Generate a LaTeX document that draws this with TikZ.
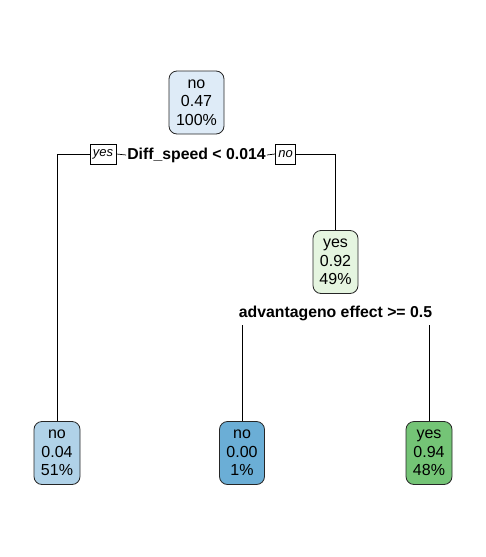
\documentclass[tikz,border=0pt]{standalone}
\usepackage{fontspec}
\setmainfont{Liberation Sans}
\definecolor{rootc}{HTML}{DEEBF7}
\definecolor{leafa}{HTML}{B0D2E8}
\definecolor{leafb}{HTML}{6BAED6}
\definecolor{yesc}{HTML}{E5F5E0}
\definecolor{leafc}{HTML}{74C476}
\begin{document}
\begin{tikzpicture}[x=1pt,y=-1pt,
  tnode/.style={draw=black!85, line width=0.8pt, rounded corners=8pt, align=center,
    inner sep=0pt, minimum height=63pt, font=\fontsize{16}{18.7}\selectfont},
  splitlab/.style={inner sep=1pt, font=\bfseries\fontsize{15.8}{18}\selectfont},
  yn/.style={draw=black, line width=0.6pt, inner sep=3pt, minimum height=20pt, font=\itshape\fontsize{13}{14}\selectfont},
  edge/.style={line width=0.7pt}]
\useasboundingbox (0,0) rectangle (486,557);
\node[tnode, fill=rootc, minimum width=55pt] (root) at (196.5,102.5) {no\\0.47\\100\%};
\node[splitlab] (s1) at (196.5,155) {Diff\_speed < 0.014};
\node[yn] (ylab) at (103,154) {yes};
\node[yn] (nlab) at (285.5,154) {no};
\node[tnode, fill=yesc, minimum width=45pt] (n3) at (335.5,262) {yes\\0.92\\49\%};
\node[splitlab] (s2) at (335.5,313) {advantageno effect >= 0.5};
\node[tnode, fill=leafa, minimum width=46pt] (l1) at (57,453) {no\\0.04\\51\%};
\node[tnode, fill=leafb, minimum width=45pt] (l2) at (242,453) {no\\0.00\\1\%};
\node[tnode, fill=leafc, minimum width=46pt] (l3) at (429,453) {yes\\0.94\\48\%};
\coordinate (c2l) at (242,325);
\coordinate (c2r) at (429,325);
\draw[edge] (s1.west) -- (ylab.east);
\draw[edge] (ylab.west) -| (l1.north);
\draw[edge] (s1.east) -- (nlab.west);
\draw[edge] (nlab.east) -| (n3.north);
\draw[edge] (c2l) -- (l2.north);
\draw[edge] (c2r) -- (l3.north);
\end{tikzpicture}
\end{document}
